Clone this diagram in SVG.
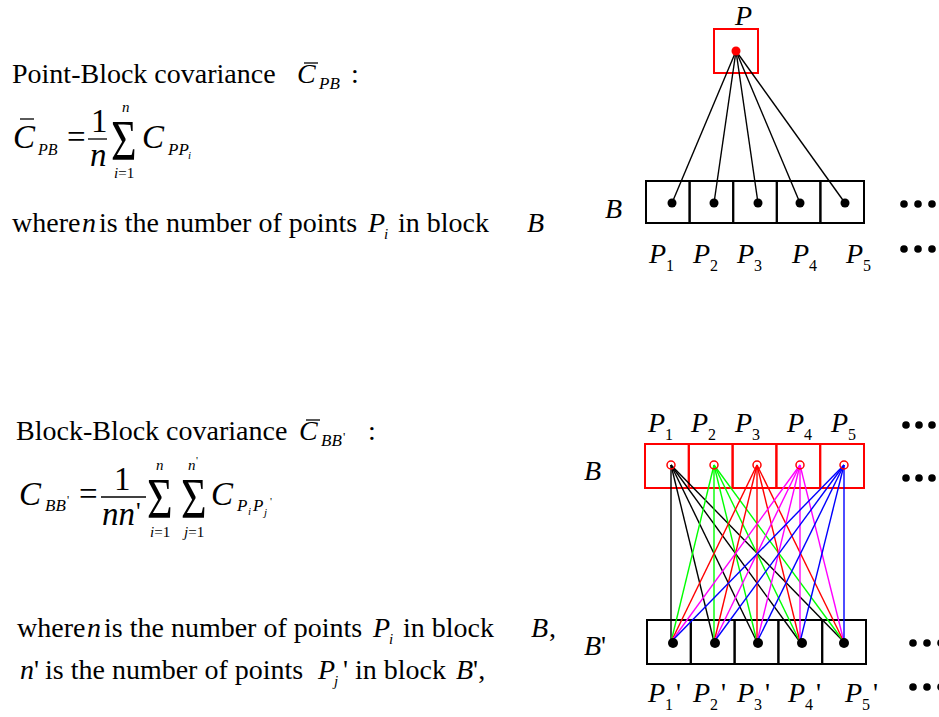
<svg xmlns="http://www.w3.org/2000/svg" width="939" height="717" viewBox="0 0 939 717">
<style>
.t{font-family:"Liberation Serif","Times New Roman",serif;font-size:28px;fill:#000}
.i{font-style:italic}
.m{font-size:33px}
.s{font-size:17px}
.ss{font-size:13px}
.sg{font-family:"Liberation Serif","Times New Roman",serif;font-size:44px}
.bar{stroke:#000;stroke-width:1.3}
.bk{fill:none;stroke:#000;stroke-width:2}
.rb{fill:none;stroke:#f00;stroke-width:2}
.ln{stroke-width:1.4;fill:none}
.dot{fill:#000}
.rc{fill:none;stroke:#f00;stroke-width:1.5}
.n{font-style:normal}
.sub{font-style:normal;font-size:16px}
</style>
<rect width="939" height="717" fill="#fff"/>

<g id="text-point-block">
<text class="t" x="12" y="83">Point-Block covariance</text>
<text class="t i" x="297" y="83">C</text>
<line class="bar" x1="304" y1="63" x2="318" y2="63"/>
<text class="t i s" x="319" y="89">PB</text>
<text class="t" x="351" y="83">:</text>

<text class="t i m" x="13" y="148">C</text>
<line class="bar" x1="20" y1="119" x2="34" y2="119"/>
<text class="t i" x="38" y="155" style="font-size:16px">PB</text>
<text class="t m" x="67" y="148">=</text>
<text class="t m" x="91" y="132">1</text>
<line class="bar" x1="88" y1="139" x2="107" y2="139"/>
<text class="t i m" x="90" y="166">n</text>
<text class="sg" transform="translate(111,160) scale(1,1.3)">Σ</text>
<text class="t i" x="122" y="112" style="font-size:15px">n</text>
<text class="t" x="114" y="178" style="font-size:15px"><tspan class="i">i</tspan>=1</text>
<text class="t i m" x="142" y="148">C</text>
<text class="t i" x="168" y="155" style="font-size:17px">PP</text>
<text class="t i" x="188" y="159" style="font-size:11px">i</text>

<text class="t" x="12" y="232">where<tspan class="i" x="82">n</tspan><tspan x="99">is the number of points</tspan><tspan class="i" x="368">P</tspan><tspan class="i" x="384" y="239" style="font-size:15px">i</tspan><tspan x="398" y="232">in block</tspan><tspan class="i" x="527">B</tspan></text>
</g>

<g id="text-block-block">
<text class="t" x="16" y="440">Block-Block covariance</text>
<text class="t i" x="299" y="440">C</text>
<line class="bar" x1="306" y1="420" x2="320" y2="420"/>
<text class="t i s" x="321" y="446">BB</text>
<text class="t ss" x="343" y="441">'</text>
<text class="t" x="368" y="440">:</text>

<text class="t i m" x="19" y="505">C</text>
<text class="t i" x="45" y="511" style="font-size:17px">BB</text>
<text class="t" x="67" y="504" style="font-size:12px">'</text>
<text class="t m" x="79" y="505">=</text>
<text class="t m" x="114" y="490">1</text>
<line class="bar" x1="101" y1="497" x2="146" y2="497"/>
<text class="t i m" x="102" y="525">nn</text>
<text class="t" x="136" y="520" style="font-size:26px">'</text>
<text class="sg" transform="translate(147,518) scale(1,1.3)">Σ</text>
<text class="sg" transform="translate(181,518) scale(1,1.3)">Σ</text>
<text class="t i" x="156" y="470" style="font-size:15px">n</text>
<text class="t i" x="188" y="470" style="font-size:15px">n</text>
<text class="t" x="196" y="464" style="font-size:11px">'</text>
<text class="t" x="150" y="537" style="font-size:15px"><tspan class="i">i</tspan>=1</text>
<text class="t" x="184" y="537" style="font-size:15px"><tspan class="i">j</tspan>=1</text>
<text class="t i m" x="211" y="505">C</text>
<text class="t i" x="237" y="511" style="font-size:17px">P</text>
<text class="t i" x="248" y="515" style="font-size:11px">i</text>
<text class="t i" x="253" y="511" style="font-size:17px">P</text>
<text class="t i" x="264" y="516" style="font-size:11px">j</text>
<text class="t" x="270" y="505" style="font-size:11px">'</text>

<text class="t" x="17" y="637">where<tspan class="i" x="87">n</tspan><tspan x="104">is the number of points</tspan><tspan class="i" x="373">P</tspan><tspan class="i" x="389" y="644" style="font-size:15px">i</tspan><tspan x="403" y="637">in block</tspan><tspan class="i" x="531">B</tspan><tspan x="549">,</tspan></text>
<text class="t" x="20" y="679"><tspan class="i">n</tspan><tspan>'</tspan><tspan x="45">is the number of points</tspan><tspan class="i" x="318">P</tspan><tspan class="i" x="334" y="686" style="font-size:15px">j</tspan><tspan x="343" y="679">' in block</tspan><tspan class="i" x="456">B</tspan><tspan>',</tspan></text>
</g>

<g id="node-P">
<text class="t i" x="735" y="25">P</text>
<rect class="rb" x="714" y="29" width="44" height="44"/>
</g>

<g id="node-B">
<text class="t i" x="605" y="218">B</text>
<rect class="bk" x="646" y="181" width="43.6" height="42"/>
<rect class="bk" x="689.6" y="181" width="43.6" height="42"/>
<rect class="bk" x="733.2" y="181" width="43.6" height="42"/>
<rect class="bk" x="776.8" y="181" width="43.6" height="42"/>
<rect class="bk" x="820.4" y="181" width="43.6" height="42"/>
</g>

<g id="connectors-top" class="ln" stroke="#000">
<line x1="736" y1="51" x2="672" y2="203"/>
<line x1="736" y1="51" x2="714" y2="203"/>
<line x1="736" y1="51" x2="758" y2="203"/>
<line x1="736" y1="51" x2="800" y2="203"/>
<line x1="736" y1="51" x2="845" y2="203"/>
</g>

<g id="points-top">
<circle cx="736" cy="51" r="4.5" fill="#f00"/>
<circle class="dot" cx="672" cy="203" r="4.5"/>
<circle class="dot" cx="714" cy="203" r="4.5"/>
<circle class="dot" cx="758" cy="203" r="4.5"/>
<circle class="dot" cx="800" cy="203" r="4.5"/>
<circle class="dot" cx="845" cy="203" r="4.5"/>
<text class="t i" x="649" y="263">P<tspan class="sub" y="271">1</tspan></text>
<text class="t i" x="693" y="263">P<tspan class="sub" y="271">2</tspan></text>
<text class="t i" x="737" y="263">P<tspan class="sub" y="271">3</tspan></text>
<text class="t i" x="792" y="263">P<tspan class="sub" y="271">4</tspan></text>
<text class="t i" x="846" y="263">P<tspan class="sub" y="271">5</tspan></text>
<circle class="dot" cx="904" cy="204" r="3.8"/>
<circle class="dot" cx="918" cy="204" r="3.8"/>
<circle class="dot" cx="932" cy="204" r="3.8"/>
<circle class="dot" cx="904" cy="249" r="3.8"/>
<circle class="dot" cx="918" cy="249" r="3.8"/>
<circle class="dot" cx="932" cy="249" r="3.8"/>
</g>

<g id="node-B-upper">
<text class="t i" x="584" y="480">B</text>
<rect class="rb" x="645" y="444" width="43.8" height="44"/>
<rect class="rb" x="688.8" y="444" width="43.8" height="44"/>
<rect class="rb" x="732.6" y="444" width="43.8" height="44"/>
<rect class="rb" x="776.4" y="444" width="43.8" height="44"/>
<rect class="rb" x="820.2" y="444" width="43.8" height="44"/>
<text class="t i" x="648" y="432">P<tspan class="sub" y="440">1</tspan></text>
<text class="t i" x="691" y="432">P<tspan class="sub" y="440">2</tspan></text>
<text class="t i" x="735" y="432">P<tspan class="sub" y="440">3</tspan></text>
<text class="t i" x="787" y="432">P<tspan class="sub" y="440">4</tspan></text>
<text class="t i" x="831" y="432">P<tspan class="sub" y="440">5</tspan></text>
<circle class="dot" cx="906" cy="425" r="3.8"/>
<circle class="dot" cx="919" cy="425" r="3.8"/>
<circle class="dot" cx="932" cy="425" r="3.8"/>
<circle class="dot" cx="906" cy="478" r="3.8"/>
<circle class="dot" cx="919" cy="478" r="3.8"/>
<circle class="dot" cx="932" cy="478" r="3.8"/>
</g>

<g id="node-B-prime">
<text class="t i" x="584" y="655">B<tspan class="n">'</tspan></text>
<rect class="bk" x="647" y="620" width="43.8" height="44"/>
<rect class="bk" x="690.8" y="620" width="43.8" height="44"/>
<rect class="bk" x="734.6" y="620" width="43.8" height="44"/>
<rect class="bk" x="778.4" y="620" width="43.8" height="44"/>
<rect class="bk" x="822.2" y="620" width="43.8" height="44"/>
<text class="t i" x="648" y="702">P<tspan class="sub" y="710">1</tspan><tspan class="n" y="702" dx="3">'</tspan></text>
<text class="t i" x="693" y="702">P<tspan class="sub" y="710">2</tspan><tspan class="n" y="702" dx="3">'</tspan></text>
<text class="t i" x="737" y="702">P<tspan class="sub" y="710">3</tspan><tspan class="n" y="702" dx="3">'</tspan></text>
<text class="t i" x="788" y="702">P<tspan class="sub" y="710">4</tspan><tspan class="n" y="702" dx="3">'</tspan></text>
<text class="t i" x="845" y="702">P<tspan class="sub" y="710">5</tspan><tspan class="n" y="702" dx="3">'</tspan></text>
<circle class="dot" cx="913" cy="643" r="3.8"/>
<circle class="dot" cx="927" cy="643" r="3.8"/>
<circle class="dot" cx="941" cy="643" r="3.8"/>
<circle class="dot" cx="913" cy="687" r="3.8"/>
<circle class="dot" cx="927" cy="687" r="3.8"/>
<circle class="dot" cx="941" cy="687" r="3.8"/>
</g>

<g id="connectors-bottom" class="ln">
<g stroke="#000">
<line x1="671" y1="465" x2="671" y2="642"/>
<line x1="671" y1="465" x2="714" y2="642"/>
<line x1="671" y1="465" x2="757" y2="642"/>
<line x1="671" y1="465" x2="800" y2="642"/>
<line x1="671" y1="465" x2="844" y2="642"/>
</g>
<g stroke="#0f0">
<line x1="714" y1="465" x2="671" y2="642"/>
<line x1="714" y1="465" x2="714" y2="642"/>
<line x1="714" y1="465" x2="757" y2="642"/>
<line x1="714" y1="465" x2="800" y2="642"/>
<line x1="714" y1="465" x2="844" y2="642"/>
</g>
<g stroke="#f00">
<line x1="757" y1="465" x2="671" y2="642"/>
<line x1="757" y1="465" x2="714" y2="642"/>
<line x1="757" y1="465" x2="757" y2="642"/>
<line x1="757" y1="465" x2="800" y2="642"/>
<line x1="757" y1="465" x2="844" y2="642"/>
</g>
<g stroke="#f0f">
<line x1="800" y1="465" x2="671" y2="642"/>
<line x1="800" y1="465" x2="714" y2="642"/>
<line x1="800" y1="465" x2="757" y2="642"/>
<line x1="800" y1="465" x2="800" y2="642"/>
<line x1="800" y1="465" x2="844" y2="642"/>
</g>
<g stroke="#00f">
<line x1="844" y1="465" x2="671" y2="642"/>
<line x1="844" y1="465" x2="714" y2="642"/>
<line x1="844" y1="465" x2="757" y2="642"/>
<line x1="844" y1="465" x2="800" y2="642"/>
<line x1="844" y1="465" x2="844" y2="642"/>
</g>
</g>

<g id="points-bottom">
<circle class="rc" cx="671" cy="465" r="4"/>
<circle class="rc" cx="714" cy="465" r="4"/>
<circle class="rc" cx="757" cy="465" r="4"/>
<circle class="rc" cx="800" cy="465" r="4"/>
<circle class="rc" cx="844" cy="465" r="4"/>
<circle class="dot" cx="673" cy="643" r="5"/>
<circle class="dot" cx="715" cy="643" r="5"/>
<circle class="dot" cx="758" cy="643" r="5"/>
<circle class="dot" cx="802" cy="643" r="5"/>
<circle class="dot" cx="844" cy="643" r="5"/>
</g>
</svg>
